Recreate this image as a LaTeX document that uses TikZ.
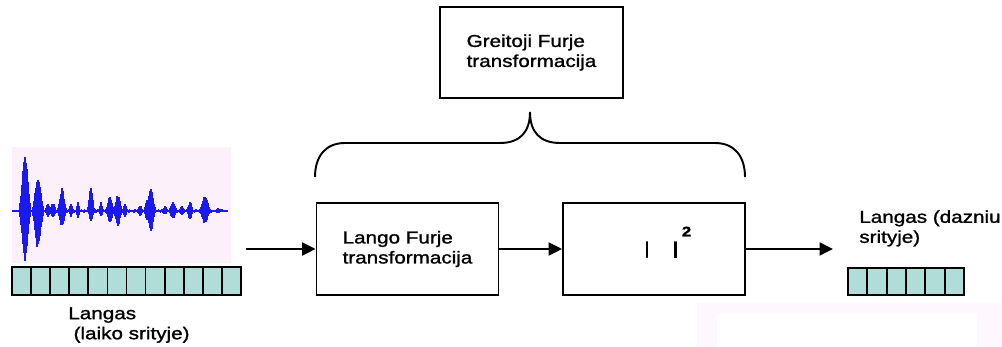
\documentclass[tikz,border=0pt]{standalone}
\usepackage{fontspec}
\setmainfont{Liberation Sans}[FakeStretch=1.2, FakeBold=1.3]
\usetikzlibrary{arrows.meta}
\definecolor{wavebg}{RGB}{252,240,251}
\definecolor{cellfill}{RGB}{176,221,216}
\definecolor{wave}{RGB}{25,25,240}
\definecolor{haze}{RGB}{254,247,254}
\tikzset{
  blok/.style={draw, line width=1.1pt, minimum width=3.64cm, minimum height=1.84cm, inner sep=0pt, align=left},
  link/.style={line width=1.1pt, -{Triangle[length=0.27cm,width=0.26cm]}},
  cell/.style={draw, line width=1pt, fill=cellfill}
}
\begin{document}
\begin{tikzpicture}[x=0.02cm, y=-0.02cm, every node/.append style={font=\fontsize{9.8}{11.4}\selectfont}]
  \useasboundingbox (0,0) rectangle (1002,347);
  \fill[haze] (697,303) rectangle (1002,347);
  \fill[white] (717,313) rectangle (977,347);

  % signal in the time domain
  \fill[wavebg] (12,147) rectangle (231,263);
  \draw[wave, line width=0.6pt] (12,211) -- (228,211);
  \pgfmathsetseed{3}
  \foreach \x in {44,...,222}
    \draw[wave, line width=0.5pt] (\x,{211-0.5-1.5*rnd}) -- (\x,{211+0.5+1.5*rnd});
  \foreach \c/\u/\d/\w in {25/63/51/5, 38/38/40/5, 48/8/6/3, 53/9/7/3, 62/24/17/4,
      71/8/6/2, 78/10/8/2, 91/28/10/3, 101/10/6/2, 110/15/12/4, 118/17/15/4,
      125/9/7/2, 140/6/5/3, 147/12/10/3, 151/27/21/4, 165/5/4/3, 173/9/8/4,
      182/5/4/3, 190/10/9/3, 205/17/13/5, 218/3/3/3}{
    \foreach \i in {-\w,...,\w}{
      \pgfmathsetmacro\e{exp(-2*\i*\i/(\w*\w))}
      \draw[wave, line width=0.8pt] (\c+\i,{211-\u*\e*(0.8+0.2*rnd)}) -- (\c+\i,{211+\d*\e*(0.8+0.2*rnd)});
    }
  }
  \foreach \i in {0,...,11}
    \draw[cell] ({12+\i*19.08},267) rectangle ++(19.08,28);
  \node (lwin) [anchor=north west, align=left, inner sep=0pt] at (68,307) {Langas\\\hspace{3pt}(laiko srityje)};

  % processing blocks
  \node[blok, minimum width=3.66cm, minimum height=1.82cm] (fft) at (531.5,52.5) {Greitoji Furje\\transformacija};
  \node[blok] (lft) at (407.5,249) {Lango Furje\\transformacija};
  \node[blok] (sq) at (654,249) {};
  \node (sqtxt) [anchor=base west, inner sep=0pt] at (644,254) {|\hspace{13pt}{\bfseries |}\hspace{2pt}\raisebox{10pt}{\fontsize{8}{9}\selectfont\bfseries 2}};

  \draw[line width=1.1pt] (315,177) .. controls (315,157) and (325,143) .. (345,143) -- (500,143)
    .. controls (520,143) and (530,132) .. (530,112)
    .. controls (530,132) and (540,143) .. (560,143) -- (715,143)
    .. controls (735,143) and (745,157) .. (745,177);

  \coordinate (in) at (246,249);
  \coordinate (out) at (833,249);
  \draw[link] (in) -- (lft);
  \draw[link] (lft) -- (sq);
  \draw[link] (sq) -- (out);

  % spectrum window
  \node (fwin) [anchor=north west, align=left, inner sep=0pt] at (859,210) {Langas (dazniu\\srityje)};
  \foreach \i in {0,...,5}
    \draw[cell] ({848+\i*19.33},268) rectangle ++(19.33,27);
\end{tikzpicture}
\end{document}
